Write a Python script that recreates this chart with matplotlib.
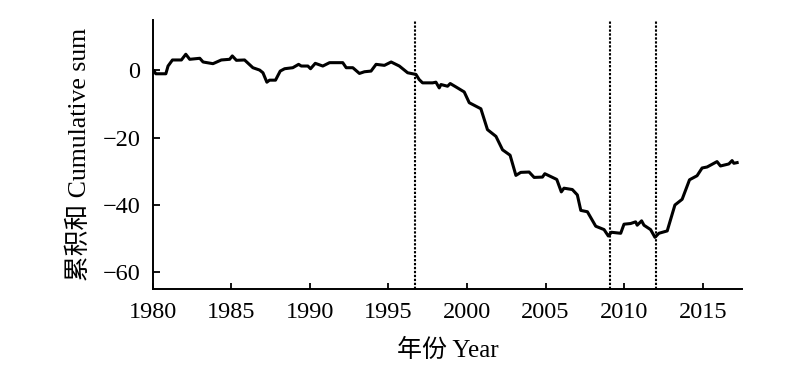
import matplotlib
matplotlib.use("Agg")
from matplotlib import pyplot as plt

# cumulative sum (year, value)
years = [1980.0, 1980.06, 1980.19, 1980.83, 1980.97, 1981.25, 1981.82, 1982.10, 1982.35,
         1982.99, 1983.20, 1983.83, 1984.36, 1984.89, 1985.06, 1985.32, 1985.84, 1986.37,
         1986.80, 1987.01, 1987.26, 1987.43, 1987.81, 1988.11, 1988.39, 1988.91, 1989.28,
         1989.45, 1989.87, 1990.04, 1990.34, 1990.82, 1991.25, 1992.09, 1992.31, 1992.73,
         1993.15, 1993.47, 1993.89, 1994.21, 1994.74, 1995.17, 1995.69, 1996.22, 1996.75,
         1996.95, 1997.17, 1997.81, 1998.02, 1998.23, 1998.34, 1998.76, 1998.93, 1999.29,
         1999.82, 2000.14, 2000.88, 2001.30, 2001.84, 2002.26, 2002.74, 2003.11, 2003.42,
         2003.95, 2004.27, 2004.80, 2004.95, 2005.71, 2006.00, 2006.17, 2006.70, 2007.02,
         2007.24, 2007.66, 2008.19, 2008.72, 2008.99, 2009.19, 2009.78, 2009.99, 2010.41,
         2010.73, 2010.83, 2011.11, 2011.26, 2011.68, 2011.96, 2012.21, 2012.74, 2013.23,
         2013.69, 2014.16, 2014.64, 2014.96, 2015.28, 2015.91, 2016.13, 2016.66, 2016.87,
         2016.98, 2017.19]
cusum = [-0.4, 0.0, -1.0, -1.0, 1.3, 3.1, 3.1, 4.8, 3.3,
         3.6, 2.5, 2.0, 3.1, 3.3, 4.3, 3.0, 3.1, 0.8,
         0.1, -0.7, -3.5, -2.9, -2.9, -0.2, 0.5, 0.8, 1.8,
         1.3, 1.3, 0.5, 2.1, 1.3, 2.3, 2.3, 0.8, 0.8,
         -0.9, -0.4, -0.2, 1.8, 1.5, 2.5, 1.3, -0.7, -1.2,
         -2.7, -3.7, -3.7, -3.5, -5.2, -4.2, -4.7, -3.9, -4.9,
         -6.4, -9.6, -11.4, -17.6, -19.6, -23.6, -25.2, -31.2, -30.3,
         -30.2, -31.8, -31.7, -30.7, -32.4, -36.1, -35.0, -35.4, -37.0,
         -41.6, -42.0, -46.3, -47.3, -49.2, -48.1, -48.4, -45.7, -45.5,
         -45.0, -46.0, -44.7, -46.0, -47.3, -49.6, -48.4, -47.7, -40.0,
         -38.3, -32.5, -31.3, -29.0, -28.7, -27.1, -28.4, -27.8, -26.8,
         -27.6, -27.4]

# change points (dotted lines)
breaks = [1996.7, 2009.1, 2012.0]

xticks = [1980, 1985, 1990, 1995, 2000, 2005, 2010, 2015]
yticks = [0, -20, -40, -60]

fam = ['Liberation Serif', 'Noto Sans CJK SC']
plt.rcParams['font.family'] = fam

fig = plt.figure(figsize=(8, 3.76), dpi=100)
ax = fig.add_axes([0.191, 0.231, 0.7365, 0.716])

ax.plot(years, cusum, color='black', linewidth=2.2)
for b in breaks:
    ax.axvline(b, color='black', linestyle=(0, (1.1, 0.8)), linewidth=1.5)

ax.set_xlim(1980, 2017.5)
ax.set_ylim(-65, 15)
ax.set_xticks(xticks)
ax.set_yticks(yticks)
ax.set_yticklabels(['0', '\u221220', '\u221240', '\u221260'])

for s in ['top', 'right']:
    ax.spines[s].set_visible(False)
for s in ['left', 'bottom']:
    ax.spines[s].set_linewidth(1.4)

ax.tick_params(axis='both', direction='in', labelsize=17.5, width=1.3)
ax.tick_params(axis='y', length=5, pad=9)
ax.tick_params(axis='x', length=4, pad=9)

ax.set_xlabel('年份 Year', fontsize=18, labelpad=12)
ax.set_ylabel('累积和 Cumulative sum', fontsize=18.5, labelpad=8)

fig.savefig('out.png', dpi=100)
